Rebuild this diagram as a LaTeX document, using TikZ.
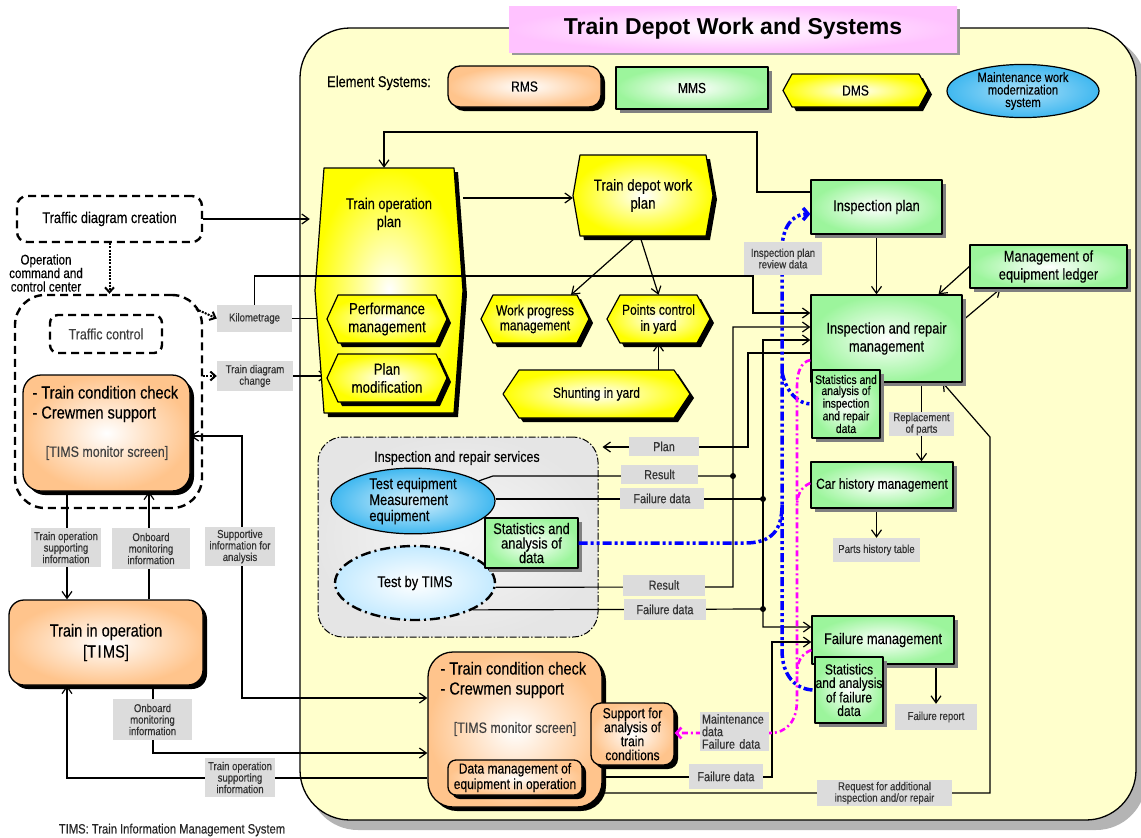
\documentclass[tikz,border=0pt]{standalone}
\usepackage{fontspec}
\setmainfont[FakeStretch=0.83,FakeBold=0.3]{Liberation Sans}
\newfontfamily\titlefont{Liberation Sans}
\usetikzlibrary{arrows.meta,shadows,shapes.geometric}

\pgfdeclarelayer{back}
\pgfdeclarelayer{lines}
\pgfdeclarelayer{front}
\pgfdeclarelayer{labels}
\pgfsetlayers{back,lines,main,front,labels}

\definecolor{bgyellow}{HTML}{FFFFCC}
\definecolor{mygreen}{HTML}{9CF59C}
\definecolor{myorange}{HTML}{FFC48C}
\definecolor{hexyellow}{HTML}{FFFF00}
\definecolor{titlepink}{HTML}{FFC2FF}
\definecolor{lblgray}{HTML}{DCDCDC}
\definecolor{skyblue}{HTML}{40B8F0}
\definecolor{paleblue}{HTML}{C4EAFF}
\definecolor{shadowgray}{HTML}{808080}
\definecolor{mainshadow}{HTML}{B4B4B4}
\definecolor{flowblue}{HTML}{0000FF}
\definecolor{flowmag}{HTML}{FF00FF}

\newcommand{\fsz}[2]{\fontsize{#1}{#2}\selectfont}

% yellow hexagonal process: x1, y1, x2, y2, tip, name, node options, text
\newcommand{\hexbox}[8]{%
  \fill[black,shift={(4,4)}] (#1+#5,#2) -- (#3-#5,#2) -- (#3,{(#2+#4)/2}) -- (#3-#5,#4) -- (#1+#5,#4) -- (#1,{(#2+#4)/2}) -- cycle;
  \shade[draw=black,line width=1.2pt,inner color=white,outer color=hexyellow] (#1+#5,#2) -- (#3-#5,#2) -- (#3,{(#2+#4)/2}) -- (#3-#5,#4) -- (#1+#5,#4) -- (#1,{(#2+#4)/2}) -- cycle;
  \node[hextext,#7,minimum width={#3-#1},minimum height={#4-#2}] (#6) at ({(#1+#3)/2},{(#2+#4)/2}) {#8};}

\begin{document}
\begin{tikzpicture}[x=1pt,y=-1pt,line join=round,
  arr/.style={-{Straight Barb[length=7pt,width=10pt]}},
  dotarr/.style={line width=2pt,dash pattern=on 2pt off 1.2pt,-{Straight Barb[length=5pt,width=9pt]}},
  hextext/.style={align=center,inner sep=0pt,font=\fsz{15.5}{18}},
  gbox/.style={draw=black,line width=1.3pt,inner color=white,outer color=mygreen,
    drop shadow={fill=shadowgray,opacity=1,shadow xshift=4pt,shadow yshift=-4pt},
    align=center,inner sep=0pt,font=\fsz{15.5}{18}},
  obox/.style={draw=black,line width=1.3pt,inner color=white,outer color=myorange,
    drop shadow={fill=black,opacity=1,shadow xshift=4pt,shadow yshift=-4pt},
    inner sep=0pt,font=\fsz{14.5}{14.5}},
  dashbox/.style={draw=black,line width=2.4pt,dash pattern=on 8pt off 5pt,inner sep=0pt},
  lbl/.style={fill=lblgray,inner sep=0pt,align=center,text=black!80,font=\fsz{11.5}{11.5}},
  lblb/.style={lbl,font=\fsz{13}{13}},
  bluel/.style={draw=flowblue,line width=3.5pt,dash pattern=on 9pt off 3pt on 3pt off 3pt on 3pt off 3pt},
  magl/.style={draw=flowmag,line width=2.6pt,dash pattern=on 6pt off 3pt on 2pt off 3pt}]

\useasboundingbox (0,0) rectangle (1141,838);

% ---------- depot area and service group ----------
\begin{pgfonlayer}{back}
  \fill[mainshadow,rounded corners=50pt] (308,36) rectangle (1146,830);
  \draw[fill=bgyellow,line width=1.3pt,rounded corners=50pt] (300,28) rectangle (1136,820);
  \node[draw=black,line width=1pt,dash pattern=on 7pt off 2pt on 1.5pt off 2pt,rounded corners=25pt,
        inner color=gray!6,outer color=gray!20,minimum width=280,minimum height=200] (svc) at (458,537) {};
\end{pgfonlayer}

% ---------- title and legend ----------
\node[minimum width=448,minimum height=46,inner color=white,outer color=titlepink,
      drop shadow={fill=shadowgray!80,opacity=1,shadow xshift=3pt,shadow yshift=-3pt},
      font=\titlefont\bfseries\fsz{23}{23}] (title) at (733,29) {Train Depot Work and Systems};
\node[font=\fsz{15.5}{15.5}] (elem) at (379,83) {Element Systems:};
\node[obox,rounded corners=12pt,minimum width=153,minimum height=41] (rms) at (524.5,86.5) {RMS};
\node[gbox,minimum width=152,minimum height=42,font=\fsz{14.5}{14.5}] (mms) at (692,88) {MMS};
\hexbox{783}{74}{928}{107}{9}{dms}{font=\fsz{14.5}{15}}{DMS}
\node[ellipse,draw=black,line width=1.2pt,inner color=skyblue!45!white,outer color=skyblue,
      minimum width=152,minimum height=50,inner sep=0pt,align=center,font=\fsz{13.5}{12.5}] (mwm) at (1023,91) {Maintenance work\\modernization\\system};

% ---------- operation command and control center ----------
\node[dashbox,rounded corners=10pt,minimum width=185,minimum height=46,font=\fsz{15.5}{15.5}] (tdc) at (109.5,219) {Traffic diagram creation};
\node[font=\fsz{14}{13.5},align=center] (occlbl) at (46,273) {Operation\\command and\\control center};
\node[dashbox,rounded corners=30pt,minimum width=187,minimum height=213] (occ) at (108.5,401.5) {};
\node[dashbox,rounded corners=8pt,minimum width=112,minimum height=38,font=\fsz{15}{15},text=black!75] (tc) at (106,334) {Traffic control};
\node[obox,rounded corners=18pt,minimum width=167,minimum height=116] (uob) at (106.5,433) {};
\node[anchor=west,align=left,font=\fsz{17.5}{20}] (uobt) at (29,404) {- Train condition check\\- Crewmen support};
\node[font=\fsz{15}{15},text=black!75] (uobs) at (107,453) {[TIMS monitor screen]};
\node[obox,rounded corners=15pt,minimum width=194,minimum height=85,align=center,font=\fsz{17.5}{21}] (tio) at (106,642.5) {Train in operation\\{[T\hspace{1.5pt}I\hspace{1.5pt}MS]}};
\node[font=\fsz{13.5}{13.5},text=black!85] (foot) at (172,830) {TIMS: Train Information Management System};

% ---------- planning (DMS) ----------
\hexbox{315}{168}{463}{413}{9}{top}{}{}
\node[font=\fsz{15.5}{18},align=center] (topt) at (389,214) {Train operation\\plan};
\hexbox{327}{295}{447}{343}{11}{perf}{font=\fsz{16}{18}}{Performance\\management}
\hexbox{327}{354}{447}{402}{11}{pmod}{font=\fsz{16}{18}}{Plan\\modification}
\hexbox{573}{155}{713}{236}{7}{tdwp}{font=\fsz{16}{18}}{Train depot work\\plan}
\hexbox{481}{295}{589}{343}{12}{wpm}{font=\fsz{14.5}{15}}{Work progress\\management}
\hexbox{607}{295}{710}{343}{13}{pcy}{font=\fsz{14.5}{16}}{Points control\\in yard}
\hexbox{503}{370}{690}{418}{16}{shy}{font=\fsz{14.5}{15}}{Shunting in yard}

% ---------- inspection and repair services ----------
\node[font=\fsz{15}{15}] (svct) at (457,458) {Inspection and repair services};
\node[ellipse,draw=black,line width=1.2pt,inner color=skyblue!20!white,outer color=skyblue,
      minimum width=164,minimum height=62,inner sep=0pt,align=left,font=\fsz{15.5}{16}] (teq) at (413,501) {Test equipment\\Measurement\\equipment};
\node[ellipse,draw=black,line width=2.4pt,dash pattern=on 10pt off 4pt on 2pt off 4pt,inner color=white,outer color=paleblue,
      minimum width=160,minimum height=74,inner sep=0pt,font=\fsz{15.5}{15.5}] (tt) at (415,583) {Test by TIMS};
\node[gbox,minimum width=93,minimum height=50,font=\fsz{15.5}{14.5}] (sod) at (531.5,543) {Statistics and\\analysis of\\data};

% ---------- on-board analysis support ----------
\node[obox,rounded corners=25pt,minimum width=174,minimum height=155] (lob) at (515,729.5) {};
\node[anchor=west,align=left,font=\fsz{17.5}{20}] (lobt) at (437,680) {- Train condition check\\- Crewmen support};
\node[font=\fsz{15}{15},text=black!75] (lobs) at (515,729) {[TIMS monitor screen]};
\node[obox,rounded corners=10pt,minimum width=83,minimum height=62,align=center,font=\fsz{14.5}{14}] (sup) at (632.5,734) {Support for\\analysis of\\train\\conditions};
\node[obox,rounded corners=8pt,minimum width=134,minimum height=35,align=center,font=\fsz{14.5}{15.5}] (dme) at (515,777.5) {Data management of\\equipment in operation};

% ---------- maintenance management (MMS) ----------
\node[gbox,minimum width=131,minimum height=54] (insp) at (876.5,207) {Inspection plan};
\node[gbox,minimum width=157,minimum height=43] (mel) at (1048.5,266.5) {Management of\\equipment ledger};
\node[gbox,minimum width=151,minimum height=87] (irm) at (886.5,338.5) {Inspection and repair\\management};
\node[gbox,minimum width=68,minimum height=68,font=\fsz{12.5}{11}] (srd) at (846,404) {Statistics and\\analysis of\\inspection\\and repair\\data};
\node[gbox,minimum width=142,minimum height=46,font=\fsz{14.5}{14.5}] (chm) at (882,485) {Car history management};
\node[gbox,minimum width=142,minimum height=48] (fm) at (883,640) {Failure management};
\node[gbox,minimum width=68,minimum height=66,font=\fsz{14.5}{13.5}] (sfd) at (849,690) {Statistics\\and analysis\\of failure\\data};

% ---------- flow labels ----------
\begin{pgfonlayer}{labels}
  \node[lbl,minimum width=75,minimum height=27] (kilo) at (254.5,318.5) {Kilometrage};
  \node[lbl,minimum width=76,minimum height=30] (tdch) at (255,376) {Train diagram\\change};
  \node[lbl,minimum width=78,minimum height=33] (iprd) at (783,258.5) {Inspection plan\\review data};
  \node[lbl,minimum width=65,minimum height=24] (repl) at (921.5,424) {Replacement\\of parts};
  \node[lbl,minimum width=87,minimum height=24] (pht) at (876.5,550) {Parts history table};
  \node[lbl,minimum width=82,minimum height=26] (frep) at (936,717) {Failure report};
  \node[lbl,minimum width=135,minimum height=26] (req) at (884.5,793) {Request for additional\\inspection and/or repair};
  \node[lblb,minimum width=70,minimum height=19] (plan) at (664,446.5) {Plan};
  \node[lblb,minimum width=77,minimum height=19] (res1) at (659.5,474.5) {Result};
  \node[lblb,minimum width=84,minimum height=21] (fd1) at (662,498.5) {Failure data};
  \node[lblb,minimum width=82,minimum height=21] (res2) at (664,585) {Result};
  \node[lblb,minimum width=82,minimum height=21] (fd2) at (665,609.5) {Failure data};
  \node[lblb,minimum width=74,minimum height=25] (fd3) at (726,776.5) {Failure data};
  \node[lblb,align=left,inner sep=2pt,text width=65pt,minimum height=37,font=\fsz{13}{12.5}] (mdfd) at (734.5,731.5) {Maintenance\\data\\Failure data};
  \node[lbl,minimum width=70,minimum height=39] (tosa) at (66,547.5) {Train operation\\supporting\\information};
  \node[lbl,minimum width=78,minimum height=41] (omia) at (151,548.5) {Onboard\\monitoring\\information};
  \node[lbl,minimum width=70,minimum height=39] (sia) at (240,546.5) {Supportive\\information for\\analysis};
  \node[lbl,minimum width=79,minimum height=41] (omib) at (152.5,719.5) {Onboard\\monitoring\\information};
  \node[lbl,minimum width=70,minimum height=39] (tosb) at (240,777.5) {Train operation\\supporting\\information};
\end{pgfonlayer}

% ---------- connectors ----------
\begin{pgfonlayer}{lines}
\begin{scope}[line width=1.2pt]
  \coordinate (j1) at (733,476);
  \coordinate (j2) at (763,499);
  \coordinate (j3) at (733,587);
  \coordinate (j4) at (763,609);
  \coordinate (j5) at (772,777);
  \coordinate (j6) at (990,793);
  \coordinate (j7) at (990,437);
  \coordinate (ok1) at (196,309);
  % planning
  \draw[arr,shorten >=5pt] (tdc.east) -- (top.west |- tdc.east);
  \draw[arr] (insp.west |- 0,192) -- (757,192) -- (757,132) -- (384,132) -- (top.north -| 384,0);
  \draw[arr] (top.east |- 0,198) -- (tdwp.west |- 0,198);
  \draw[arr] ([xshift=-6pt]tdwp.south) -- ([xshift=36pt]wpm.north);
  \draw[arr] ([xshift=-3pt]tdwp.south) -- (pcy.north);
  \draw[arr] (shy.north -| pcy.south) -- (pcy.south);
  \draw[arr] (kilo.east) -- (perf.west |- kilo.east);
  \draw[arr] (tdch.east) -- (pmod.west |- tdch.east);
  % maintenance management
  \draw[arr] (insp.south) -- (irm.north -| insp.south);
  \draw[arr] (mel.west) -- ([xshift=52pt]irm.north);
  \draw[arr] ([yshift=18pt]irm.east) -- ([xshift=-48pt]mel.south);
  \draw[arr] (irm.south -| repl.north) -- (chm.north -| repl.north);
  \draw[arr] (chm.south -| pht.north) -- (pht.north);
  \draw[arr] (fm.south -| frep.north) -- (frep.north);
  \draw[arr,shorten >=4pt] (irm.west |- 0,353) -- (748,353) -- (748,447) -- (svc.east |- 0,447);
  % results and failure data
  \draw[arr] (teq.17) -- (493,476) -- (j1) |- (irm.west |- 0,327);
  \draw (tt.-3) -- (j3) -- (j1);
  \draw[arr] (teq.east |- j2) -- (j2) |- (irm.west |- 0,340);
  \draw[arr] (tt.-25) -- (j4) |- (fm.west |- 0,627);
  \draw (j2) -- (j4);
  \fill (j1) circle (3pt);
  \fill (j2) circle (3pt);
  \fill (j4) circle (3pt);
  \draw[arr] (dme.east |- j5) -- (j5) |- (fm.west |- 0,642);
  \draw[arr] (lob.east |- j6) -- (j6) -- (j7) -- ([xshift=-20pt]irm.south east);
  % command center and train
  \draw[dotarr] (tdc.south) -- (occ.north -| tdc.south);
  \draw[dotarr] (ok1) -- (kilo.west);
  \draw[dotarr] (occ.east |- tdch.west) -- (tdch.west);
  \draw[arr] (uob.south -| 67,0) -- (tio.north -| 67,0);
  \draw[arr] (tio.north -| 149,0) -- (uob.south -| 149,0);
  \draw[{Straight Barb[length=7pt,width=10pt]}-{Straight Barb[length=7pt,width=10pt]}] (uob.east |- 0,436) -- (242,436) -- (242,698) -- (lob.west |- 0,698);
  \draw[arr] (tio.south -| 153,0) -- (153,753) -- (lob.west |- 0,753);
  \draw[arr] (lob.west |- 0,778) -- (67,778) -- (tio.south -| 67,0);
\end{scope}
\end{pgfonlayer}

% ---------- data flows drawn above the boxes ----------
\begin{pgfonlayer}{front}
  \draw[arr,line width=1.2pt] (kilo.north) -- (kilo.north |- 0,276) -- (753,276) -- (753,313) -- (irm.west |- 0,313);
  \coordinate (bj) at (782,505);
  \coordinate (bk) at (782,372);
  \draw[bluel,-{Straight Barb[length=5pt,width=12pt]}] (sod.east) -- (745,543) .. controls (772,543) and (782,530) .. (bj) -- (782,250) .. controls (782,228) and (792,214) .. (insp.west |- 0,214);
  \draw[bluel] (bj) -- (782,650) .. controls (782,676) and (796,690) .. (sfd.west |- 0,690);
  \draw[bluel] (bk) .. controls (786,392) and (798,404) .. (srd.west |- 0,404);
  \coordinate (mj1) at (797,506);
  \coordinate (mj2) at (797,674);
  \draw[magl,-{Straight Barb[length=5pt,width=11pt]}] (irm.west |- 0,360) .. controls (801,362) and (797,372) .. (797,386) -- (797,700) .. controls (797,722) and (786,733) .. (770,733) -- (sup.east |- 0,733);
  \draw[magl] (chm.west |- 0,483) .. controls (801,487) and (797,495) .. (mj1);
  \draw[magl] (fm.west |- 0,650) .. controls (801,654) and (797,662) .. (mj2);
\end{pgfonlayer}

\end{tikzpicture}
\end{document}
